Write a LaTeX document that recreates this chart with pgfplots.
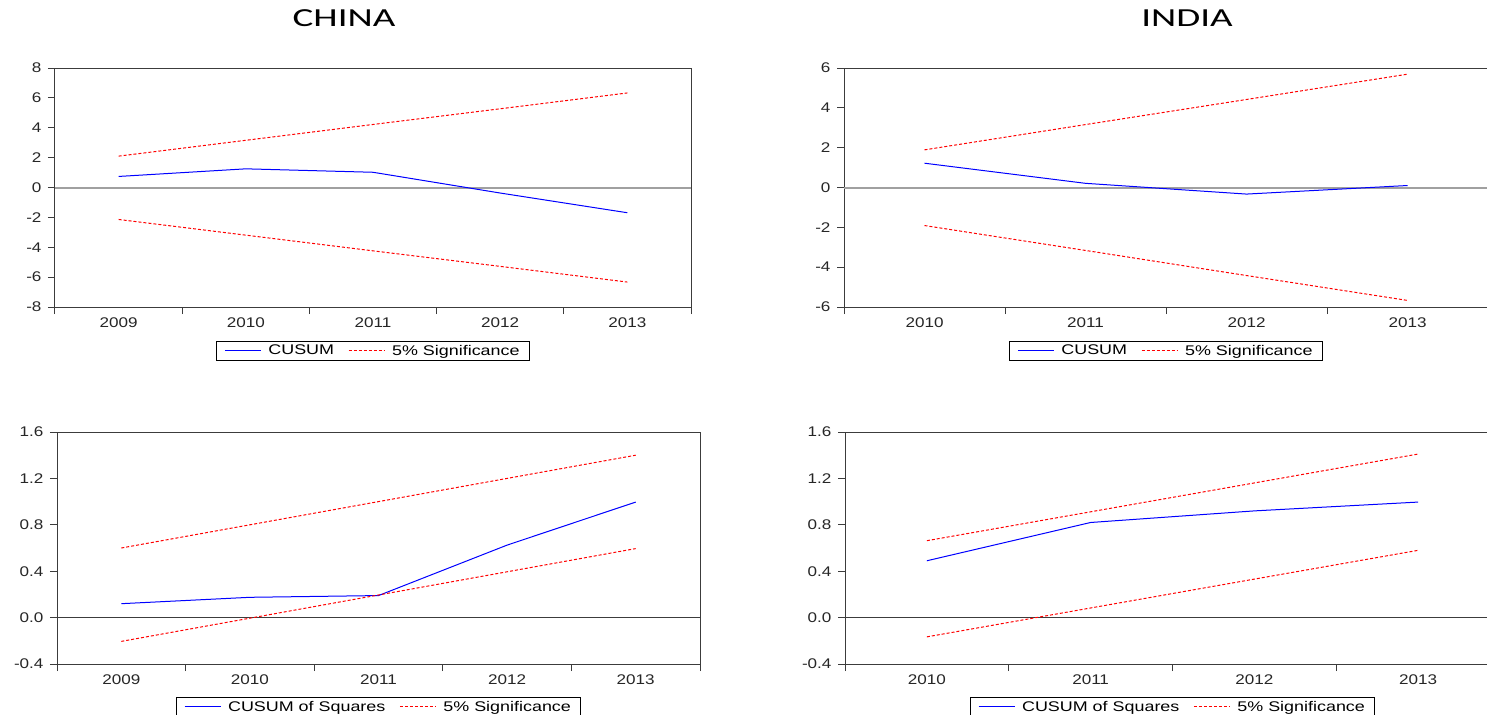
\documentclass[border=0pt]{standalone}
\usepackage{fontspec}
\setmainfont{Liberation Sans}[FakeStretch=1.22]
\newfontfamily\legfont{Liberation Sans}[FakeStretch=1.28]
\newfontfamily\titlefont{Carlito}[FakeStretch=1.5]
\usepackage{pgfplots}
\pgfplotsset{compat=1.18}

\definecolor{framec}{RGB}{60,60,60}
\definecolor{zerog}{RGB}{160,160,160}
\definecolor{cblue}{RGB}{0,0,255}
\definecolor{cred}{RGB}{255,0,0}

\pgfplotsset{
  eview/.style={
    scale only axis,
    anchor=south west,
    axis line style={framec, line width=1bp},
    tick style={framec, line width=1bp},
    tick align=outside,
    major tick length=7bp,
    minor tick length=7bp,
    xtick pos=bottom, ytick pos=left,
    major x tick style={draw=none},
    tick label style={font=\fontsize{14bp}{16bp}\selectfont, text=black!85},
    xticklabel style={yshift=0bp},
    yticklabel style={xshift=-3bp},
    legend columns=2,
    legend style={at={(0.5,0)}, anchor=north, line width=1bp,
      font=\legfont\fontsize{14bp}{16bp}\selectfont,
      inner xsep=8bp, inner ysep=1.5bp,
      nodes={inner sep=2bp},
      /tikz/every odd column/.append style={column sep=5bp},
      /tikz/every even column/.append style={column sep=12bp}},
    legend image code/.code={\draw[##1] (0bp,0bp) -- (36bp,0bp);},
  },
  cusum/.style={draw=cblue, color=cblue, line width=1bp},
  sig/.style={draw=cred, color=cred, line width=1bp, dash pattern=on 3bp off 2bp},
}

\begin{document}
\begin{tikzpicture}
\useasboundingbox (0,0) rectangle (1487bp,-715bp);

\node[font=\titlefont\fontsize{26bp}{30bp}\selectfont] at (344bp,-18bp) {CHINA};
\node[font=\titlefont\fontsize{26bp}{30bp}\selectfont] at (1187bp,-18bp) {INDIA};

% China CUSUM
\begin{axis}[eview, at={(55bp,-307bp)}, width=636bp, height=239bp,
  xmin=-0.5, xmax=4.5, ymin=-8, ymax=8,
  xtick={0,1,2,3,4}, xticklabels={2009,2010,2011,2012,2013},
  minor xtick={-0.5,0.5,1.5,2.5,3.5,4.5},
  ytick={-8,-6,-4,-2,0,2,4,6,8}, yticklabels={-8,-6,-4,-2,0,2,4,6,8},
  legend style={yshift=-34bp}]
\addplot[zerog, line width=2bp, forget plot] coordinates {(-0.5,0) (4.5,0)};
\addplot[cusum] coordinates {(0,0.74) (1,1.25) (2,1.02) (3,-0.37) (4,-1.69)};
\addplot[sig] coordinates {(0,2.10) (1,3.16) (2,4.22) (3,5.27) (4,6.33)};
\addplot[sig, forget plot] coordinates {(0,-2.14) (1,-3.19) (2,-4.24) (3,-5.28) (4,-6.33)};
\legend{CUSUM, 5\% Significance}
\end{axis}

% India CUSUM
\begin{axis}[eview, at={(844bp,-307bp)}, width=644bp, height=239bp,
  xmin=-0.5, xmax=3.5, ymin=-6, ymax=6,
  xtick={0,1,2,3}, xticklabels={2010,2011,2012,2013},
  minor xtick={-0.5,0.5,1.5,2.5,3.5},
  ytick={-6,-4,-2,0,2,4,6}, yticklabels={-6,-4,-2,0,2,4,6},
  legend style={yshift=-34bp}]
\addplot[zerog, line width=2bp, forget plot] coordinates {(-0.5,0) (3.5,0)};
\addplot[cusum] coordinates {(0,1.22) (1,0.21) (2,-0.33) (3,0.10)};
\addplot[sig] coordinates {(0,1.89) (1,3.16) (2,4.42) (3,5.69)};
\addplot[sig, forget plot] coordinates {(0,-1.91) (1,-3.16) (2,-4.42) (3,-5.67)};
\legend{CUSUM, 5\% Significance}
\end{axis}

% China CUSUM of Squares
\begin{axis}[eview, at={(57bp,-664bp)}, width=643bp, height=232bp,
  xmin=-0.5, xmax=4.5, ymin=-0.4, ymax=1.6,
  xtick={0,1,2,3,4}, xticklabels={2009,2010,2011,2012,2013},
  minor xtick={-0.5,0.5,1.5,2.5,3.5,4.5},
  ytick={-0.4,0,0.4,0.8,1.2,1.6}, yticklabels={-0.4,0.0,0.4,0.8,1.2,1.6},
  legend style={yshift=-33bp}]
\addplot[framec, line width=1bp, forget plot] coordinates {(-0.5,0) (4.5,0)};
\addplot[cusum] coordinates {(0,0.12) (1,0.175) (2,0.19) (3,0.625) (4,0.996)};
\addplot[sig] coordinates {(0,0.60) (1,0.80) (2,1.00) (3,1.20) (4,1.40)};
\addplot[sig, forget plot] coordinates {(0,-0.205) (1,-0.005) (2,0.195) (3,0.395) (4,0.595)};
\legend{CUSUM of Squares, 5\% Significance}
\end{axis}

% India CUSUM of Squares
\begin{axis}[eview, at={(845bp,-664bp)}, width=655bp, height=232bp,
  xmin=-0.5, xmax=3.5, ymin=-0.4, ymax=1.6,
  xtick={0,1,2,3}, xticklabels={2010,2011,2012,2013},
  minor xtick={-0.5,0.5,1.5,2.5,3.5},
  ytick={-0.4,0,0.4,0.8,1.2,1.6}, yticklabels={-0.4,0.0,0.4,0.8,1.2,1.6},
  legend style={yshift=-33bp}]
\addplot[framec, line width=1bp, forget plot] coordinates {(-0.5,0) (3.5,0)};
\addplot[cusum] coordinates {(0,0.49) (1,0.82) (2,0.92) (3,0.996)};
\addplot[sig] coordinates {(0,0.663) (1,0.912) (2,1.161) (3,1.41)};
\addplot[sig, forget plot] coordinates {(0,-0.166) (1,0.083) (2,0.332) (3,0.58)};
\legend{CUSUM of Squares, 5\% Significance}
\end{axis}
\end{tikzpicture}
\end{document}
